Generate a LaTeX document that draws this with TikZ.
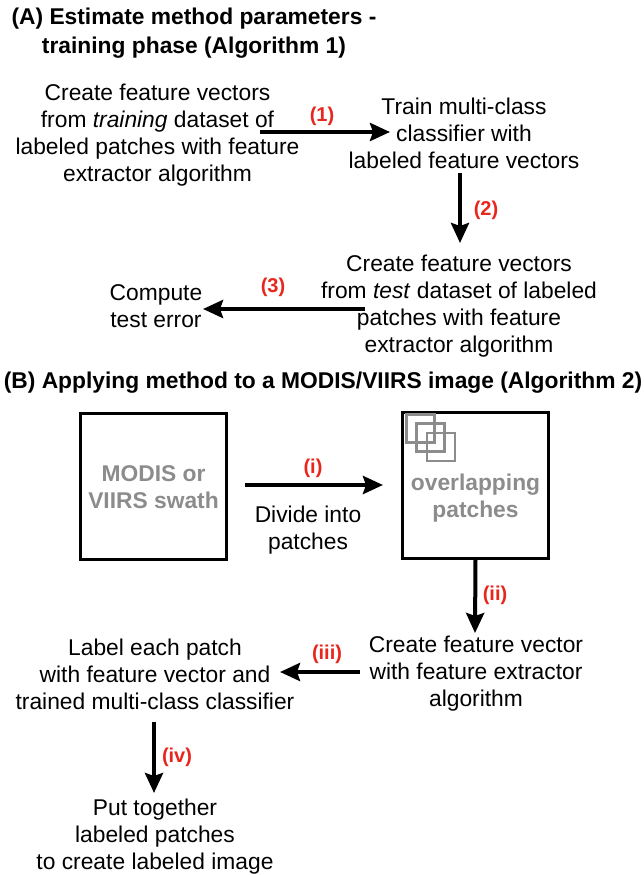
\documentclass[tikz,border=0pt]{standalone}
\usepackage{fontspec}
\setmainfont{Liberation Sans}
\usetikzlibrary{arrows.meta}
\definecolor{lblred}{RGB}{232,38,28}
\definecolor{boxgray}{RGB}{140,140,140}
\begin{document}
\begin{tikzpicture}[x=1pt,y=-1pt,
  txt/.style={align=center, inner sep=0pt, font=\fontsize{22.8}{27}\selectfont},
  ttl/.style={align=center, inner sep=0pt, font=\fontsize{22.8}{28.5}\selectfont\bfseries},
  lbl/.style={inner sep=0pt, text=lblred, font=\fontsize{20}{22}\selectfont\bfseries},
  arr/.style={line width=4pt, -{Stealth[length=20pt,width=18pt,inset=3pt]}},
  sqbox/.style={draw, line width=3pt, minimum size=146pt, inner sep=0pt},
  graytxt/.style={align=center, inner sep=0pt, text=boxgray, font=\fontsize{22.8}{27}\selectfont\bfseries},
  mini/.style={draw=boxgray, line width=2.5pt, minimum size=28pt, inner sep=0pt}
]
\useasboundingbox (0,0) rectangle (644,875);

% ---------- Part A ----------
\node[ttl] (tA) at (194,33) {(A) Estimate method parameters -\\training phase (Algorithm 1)};

\node[txt] (n1) at (157.5,135.5) {Create feature vectors\\from \textit{training} dataset of\\labeled patches with feature\\extractor algorithm};
\node[txt] (n2) at (464,133) {Train multi-class\\classifier with\\labeled feature vectors};
\node[txt] (n3) at (459,306) {Create feature vectors\\from \textit{test} dataset of labeled\\patches with feature\\extractor algorithm};
\node[txt] (n4) at (156,306.5) {Compute\\test error};

\draw[arr] ([xshift=102.5pt,yshift=3.5pt]n1.center) -- ([xshift=-74pt,yshift=1pt]n2.center);
\draw[arr] ([xshift=-4pt,yshift=-40pt]n2.center) -- ([xshift=1pt,yshift=63pt]n3.center);
\draw[arr] ([xshift=-94pt,yshift=-3pt]n3.center) -- ([xshift=47pt,yshift=-2.5pt]n4.center);

\node[lbl] (l1) at (322,116) {(1)};
\node[lbl] (l2) at (486,210) {(2)};
\node[lbl] (l3) at (273,287) {(3)};

% ---------- Part B ----------
\node[ttl] (tB) at (323,383) {(B) Applying method to a MODIS/VIIRS image (Algorithm 2)};

\node[sqbox] (b1) at (153.5,486) {};
\node[graytxt] (b1t) at (153.5,487) {MODIS or\\VIIRS swath};
\node[sqbox] (b2) at (475.5,485) {};
\node[mini] (s1) at (420.5,428.5) {};
\node[mini] (s2) at (430.5,437.5) {};
\node[mini] (s3) at (441,447) {};
\node[graytxt] (b2t) at (475.5,498) {overlapping\\patches};

\node[txt] (dv) at (308,530.5) {Divide into\\patches};
\node[txt] (n5) at (476,674) {Create feature vector\\with feature extractor\\algorithm};
\node[txt] (n6) at (155,674.3) {Label each patch\\with feature vector and\\trained multi-class classifier};
\node[txt] (n7) at (155,837) {Put together\\labeled patches\\to create labeled image};

\draw[arr] ([xshift=91.5pt,yshift=1pt]b1.center) -- ([xshift=-92.5pt]b2.center);
\draw[arr] (b2.south) -- ([xshift=-1pt,yshift=41pt]n5.center);
\draw[arr] ([xshift=-116pt,yshift=2pt]n5.center) -- ([xshift=125pt,yshift=2.3pt]n6.center);
\draw[arr] ([xshift=-1pt,yshift=-48pt]n6.center) -- ([xshift=-1pt,yshift=44pt]n7.center);

\node[lbl] (li) at (313,468) {(i)};
\node[lbl] (lii) at (495,595) {(ii)};
\node[lbl] (liii) at (327,654) {(iii)};
\node[lbl] (liv) at (177,757) {(iv)};
\end{tikzpicture}
\end{document}
